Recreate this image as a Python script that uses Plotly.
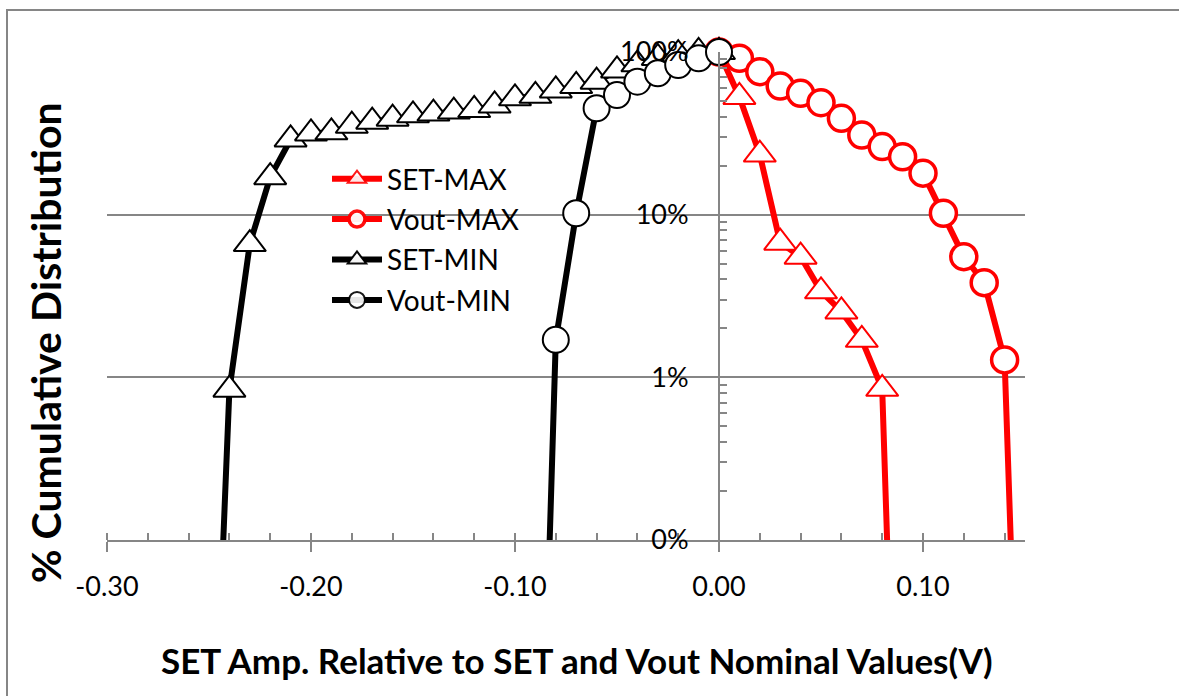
import plotly.graph_objects as go

# ---------------- data (fractions of 1 = 100%) ----------------
set_max_x = [0.00, 0.01, 0.02, 0.03, 0.04, 0.05, 0.06, 0.07, 0.08, 0.0824]
set_max_y = [1.00, 0.529, 0.234, 0.0673, 0.0552, 0.0338, 0.0254, 0.0170, 0.0085, 0.001]

vout_max_x = [0.00, 0.01, 0.02, 0.03, 0.04, 0.05, 0.06, 0.07, 0.08, 0.09,
              0.10, 0.11, 0.12, 0.13, 0.14, 0.143]
vout_max_y = [1.00, 0.915, 0.757, 0.618, 0.557, 0.488, 0.391, 0.309, 0.262, 0.227,
              0.180, 0.102, 0.0552, 0.0382, 0.0128, 0.001]

set_min_x = [-0.243, -0.24, -0.23, -0.22, -0.21, -0.20, -0.19, -0.18, -0.17, -0.16,
             -0.15, -0.14, -0.13, -0.12, -0.11, -0.10, -0.09, -0.08, -0.07, -0.06,
             -0.05, -0.04, -0.03, -0.02, -0.01, 0.00]
set_min_y = [0.001, 0.0084, 0.066, 0.17, 0.29, 0.316, 0.321, 0.352, 0.373, 0.389,
             0.408, 0.418, 0.43, 0.44, 0.469, 0.519, 0.538, 0.58, 0.618, 0.657,
             0.77, 0.84, 0.92, 0.97, 1.0, 1.0]

vout_min_x = [-0.083, -0.08, -0.07, -0.06, -0.05, -0.04, -0.03, -0.02, -0.01, 0.00]
vout_min_y = [0.001, 0.017, 0.102, 0.451, 0.544, 0.657, 0.74, 0.832, 0.915, 1.0]

x_tick_vals = [-0.30, -0.20, -0.10, 0.00, 0.10]
x_tick_text = ["-0.30", "-0.20", "-0.10", "0.00", "0.10"]

series = [
    ("SET-MAX", set_max_x, set_max_y, "#FF0000", "triangle-up", 28, 2),
    ("Vout-MAX", vout_max_x, vout_max_y, "#FF0000", "circle", 26, 3.5),
    ("SET-MIN", set_min_x, set_min_y, "#000000", "triangle-up", 28, 2),
    ("Vout-MIN", vout_min_x, vout_min_y, "#000000", "circle", 26, 2),
]

GRAY = "#868686"
FONT = "Lato"

fig = go.Figure()
for i, (name, xs, ys, col, sym, sz, lw) in enumerate(series):
    hide = [y <= 0.001 for y in ys]
    fig.add_trace(go.Scatter(
        x=xs, y=ys, name=name, mode="lines+markers",
        legendgroup=f"g{i}",
        line=dict(color=col, width=6),
        marker=dict(symbol=sym,
                    size=[0 if h else sz for h in hide],
                    opacity=[0 if h else 1 for h in hide],
                    color="white",
                    line=dict(color=col, width=lw)),
        cliponaxis=False,
    ))

W, H = 1179, 696
L, R, T, B = 107, 1025, 52, 540
pw, ph = R - L, B - T


def px(xpix):
    return (xpix - L) / pw


def py(ypix):
    return 1 - (ypix - T) / ph


xmin, xmax = -0.30, 0.15
zero_pos = (0 - xmin) / (xmax - xmin)

fig.update_layout(
    width=W, height=H,
    margin=dict(l=L, r=W - R, t=T, b=H - B, pad=0),
    paper_bgcolor="white", plot_bgcolor="white",
    font=dict(family=FONT, color="black", size=27),
    showlegend=True,
    legend=dict(x=px(327), y=py(154), xanchor="left", yanchor="top",
                bgcolor="rgba(0,0,0,0)", font=dict(family=FONT, size=28),
                tracegroupgap=1, itemsizing="trace", itemwidth=50),
    xaxis=dict(range=[xmin, xmax], tickmode="array", tickvals=x_tick_vals,
               ticktext=x_tick_text, showgrid=False, zeroline=False,
               showline=True, linecolor=GRAY, linewidth=2,
               ticks="outside", ticklen=10, tickwidth=2, tickcolor=GRAY,
               ticklabelstandoff=12,
               tickfont=dict(family=FONT, size=27),
               minor=dict(ticks="inside", ticklen=7, tickwidth=2, tickcolor=GRAY,
                          dtick=0.02, tick0=-0.30, showgrid=False)),
    yaxis=dict(type="log", range=[-3, 0], tickmode="linear", tick0=0, dtick=1,
               tickformat=".0%", anchor="free", position=zero_pos,
               showgrid=True, gridcolor=GRAY, gridwidth=2,
               showline=True, linecolor=GRAY, linewidth=2, zeroline=False,
               ticks="inside", ticklen=7, tickwidth=2, tickcolor=GRAY,
               ticklabelstandoff=24,
               tickfont=dict(family=FONT, size=27),
               minor=dict(ticks="inside", ticklen=7, tickwidth=2, tickcolor=GRAY,
                          dtick="D1", showgrid=False)),
    annotations=[
        dict(text="<b>SET Amp. Relative to SET and Vout Nominal Values(V)</b>",
             xref="paper", yref="paper", x=px(577), y=py(660),
             xanchor="center", yanchor="middle", showarrow=False,
             font=dict(family=FONT, size=35)),
        dict(text="<b>% Cumulative Distribution</b>",
             xref="paper", yref="paper", x=px(45), y=py(343),
             xanchor="center", yanchor="middle", showarrow=False, textangle=-90,
             font=dict(family=FONT, size=41)),
    ],
    shapes=[
        dict(type="rect", xref="paper", yref="paper",
             x0=px(7), x1=px(1400), y0=py(900), y1=py(10),
             line=dict(color=GRAY, width=2), fillcolor="rgba(0,0,0,0)", layer="below"),
    ],
)

fig.write_html("out.html")
